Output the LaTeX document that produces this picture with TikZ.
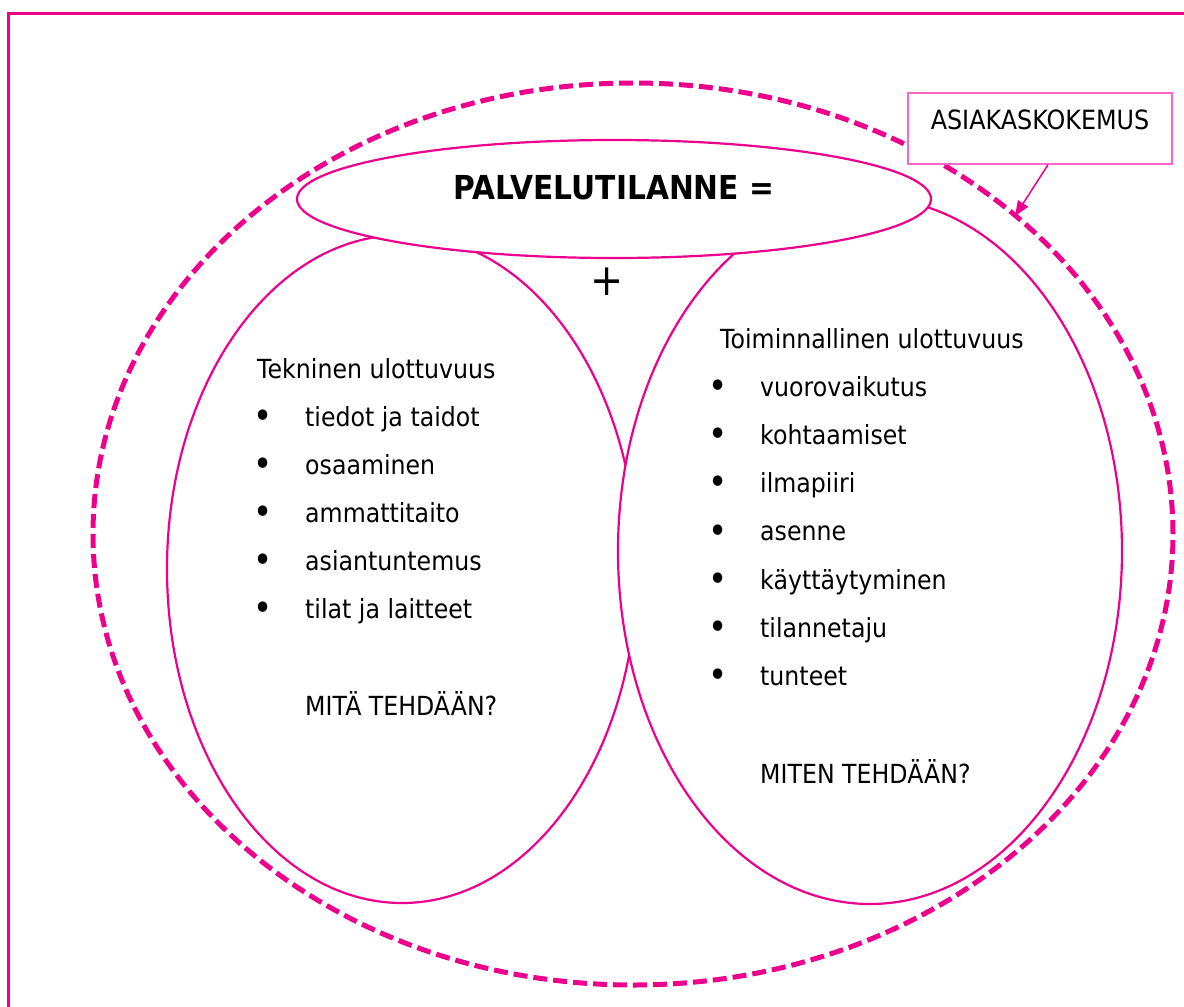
\documentclass[tikz,border=0pt]{standalone}
\usepackage{fontspec}
\setmainfont{DejaVu Sans}[FakeStretch=0.9]
\usetikzlibrary{shapes.geometric,arrows.meta}
\definecolor{mag}{RGB}{236,0,140}
\definecolor{lightmag}{RGB}{255,102,204}
\begin{document}
\begin{tikzpicture}[x=1pt,y=-1pt,
  ring/.style={ellipse,draw=mag,line width=2.2pt,fill=white,inner sep=0pt},
  txt/.style={anchor=base west,inner sep=0pt,font=\fontsize{26.3}{30}\selectfont},
  dot/.style={anchor=center,inner sep=0pt,font=\fontsize{36}{36}\selectfont}]
\useasboundingbox (0,0) rectangle (1184,1007);
% page frame (top and left edges)
\draw[mag,line width=3pt] (8.5,1010) -- (8.5,13) -- (1190,13);
% outer dashed customer-experience ellipse
\node[ellipse,draw=mag,line width=5pt,dash pattern=on 14pt off 6pt,inner sep=0pt,
      minimum width=1080pt,minimum height=902pt] (outer) at (633,534) {};
% technical and functional dimensions
\node[ring,minimum width=470pt,minimum height=668pt] (tech) at (402,569) {};
\node[ring,minimum width=504pt,minimum height=706pt] (func) at (870,551) {};
% service situation
\node[ring,minimum width=634pt,minimum height=118pt,text height=24pt,text depth=24pt,
      font=\bfseries\fontsize{33}{36}\selectfont] (situ) at (614,199) {PALVELUTILANNE =};
\node[inner sep=0pt,font=\fontsize{44}{48}\selectfont] (plus) at (607,282) {+};
% callout
\node[draw=lightmag,line width=1.5pt,fill=white,minimum width=264pt,minimum height=71pt,
      text height=18pt,text depth=17pt,inner sep=0pt,
      font=\fontsize{26.5}{30}\selectfont] (callout) at (1040,128.5) {ASIAKASKOKEMUS};
\coordinate (tip) at (1015,216);
\draw[mag,line width=1.5pt,-{Triangle[length=15pt,width=12pt]}] ([xshift=8pt]callout.south) -- (tip);
% left column
\node[txt] (ltitle) at (257,378) {Tekninen ulottuvuus};
\foreach \t [count=\i] in {tiedot ja taidot,osaaminen,ammattitaito,asiantuntemus,tilat ja laitteet}{
  \node[dot] (lb\i) at (263,371+48*\i) {•};
  \node[txt] (li\i) at (305,378+48*\i) {\t};
}
\node[txt] (lq) at (305,715) {MITÄ TEHDÄÄN?};
% right column
\node[txt] (rtitle) at (720,348) {Toiminnallinen ulottuvuus};
\foreach \t [count=\i] in {vuorovaikutus,kohtaamiset,ilmapiiri,asenne,käyttäytyminen,tilannetaju,tunteet}{
  \node[dot] (rb\i) at (718,341+48.2*\i) {•};
  \node[txt] (ri\i) at (760,348+48.2*\i) {\t};
}
\node[txt] (rq) at (760,783) {MITEN TEHDÄÄN?};
\end{tikzpicture}
\end{document}
